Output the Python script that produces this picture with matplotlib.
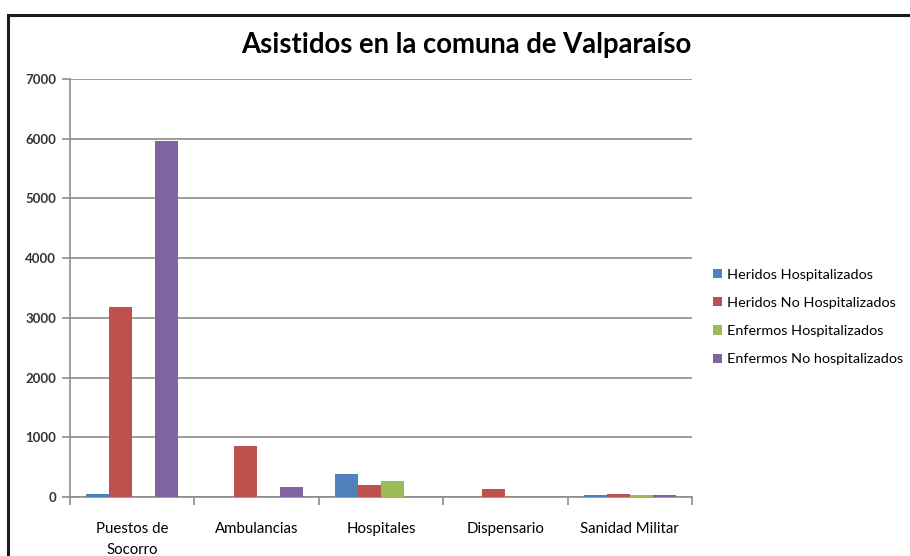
import matplotlib
matplotlib.use("Agg")
import matplotlib.pyplot as plt
import numpy as np
from matplotlib.patches import Rectangle

categories = ["Puestos de\nSocorro", "Ambulancias", "Hospitales", "Dispensario", "Sanidad Militar"]
series_names = ["Heridos Hospitalizados", "Heridos No Hospitalizados",
                "Enfermos Hospitalizados", "Enfermos No hospitalizados"]
heridos_hosp = [50, 0, 390, 0, 30]
heridos_no_hosp = [3190, 860, 200, 130, 50]
enfermos_hosp = [0, 0, 270, 0, 30]
enfermos_no_hosp = [5970, 170, 0, 0, 30]
colors = ["#4F81BD", "#C0504D", "#9BBB59", "#8064A2"]

plt.rcParams["font.family"] = ["Lato", "DejaVu Sans"]

fig = plt.figure(figsize=(9.1, 5.56), dpi=100)
ax = fig.add_axes([70 / 910, 59 / 556, 622 / 910, 418 / 556])

x = np.arange(len(categories))
w = 0.185
data = [heridos_hosp, heridos_no_hosp, enfermos_hosp, enfermos_no_hosp]
for i, (vals, name, c) in enumerate(zip(data, series_names, colors)):
    ax.bar(x + (i - 1.5) * w, vals, width=w, color=c, label=name, zorder=3)

ax.set_xlim(-0.5, len(categories) - 0.5)
ax.set_ylim(0, 7000)
ax.set_yticks(range(0, 7001, 1000))
ax.yaxis.grid(True, color="#8c8c8c", linewidth=1.2, zorder=0)
ax.set_xticks(x)
ax.set_xticklabels(categories, fontsize=10.8, linespacing=1.6)
ax.set_xticks(np.arange(-0.5, len(categories)), minor=True)
ax.tick_params(axis="x", which="major", length=0, pad=18)
ax.tick_params(axis="x", which="minor", length=6, color="#8c8c8c", width=1.2)
ax.tick_params(axis="y", length=6, color="#8c8c8c", width=1.2, labelsize=9.5, pad=4)
for lbl in ax.get_yticklabels():
    lbl.set_fontweight("bold")
    lbl.set_color("#333333")
for s in ["top", "right"]:
    ax.spines[s].set_visible(False)
for s in ["left", "bottom"]:
    ax.spines[s].set_color("#8c8c8c")
    ax.spines[s].set_linewidth(1.2)

fig.text(466 / 910, 1 - 45 / 556, "Asistidos en la comuna de Valparaíso",
         ha="center", va="center", fontsize=19.8, fontweight="bold")

ax.legend(loc="center left", bbox_to_anchor=(700 / 910, 1 - 317 / 556),
          bbox_transform=fig.transFigure, frameon=False, fontsize=10.4,
          handlelength=0.6, handleheight=0.6, handletextpad=0.4, labelspacing=1.12)

fig.patches.append(Rectangle((8 / 910, -0.1), 1.2, 1 - 15 / 556 + 0.1,
                             transform=fig.transFigure, fill=False,
                             edgecolor="#1a1a1a", linewidth=2.2))

fig.savefig("out.png", dpi=100)
